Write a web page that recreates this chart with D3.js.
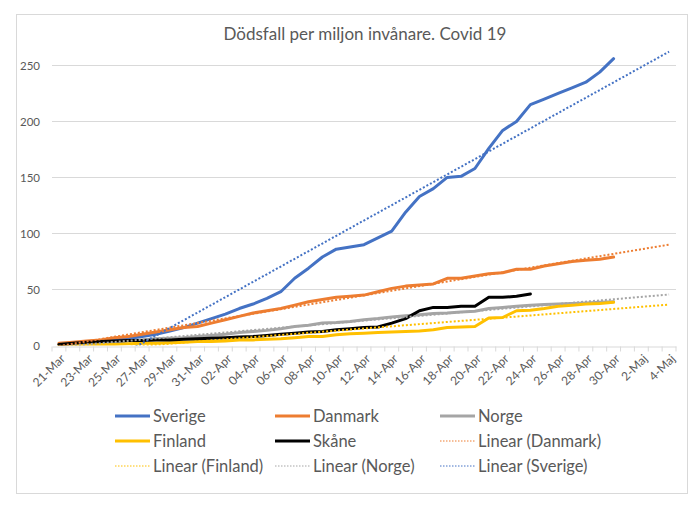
<!DOCTYPE html>
<html>
<head>
<meta charset="utf-8">
<script src="https://cdn.jsdelivr.net/npm/d3@7"></script>
<style>
  html, body { margin: 0; padding: 0; background: #ffffff; }
  svg { display: block; }
  text { font-family: "Lato", "Open Sans", sans-serif; fill: #595959; }
</style>
</head>
<body>
<svg id="chart" width="700" height="506"></svg>
<script>
const categories = [
  "21-Mar","22-Mar","23-Mar","24-Mar","25-Mar","26-Mar","27-Mar","28-Mar","29-Mar","30-Mar","31-Mar",
  "01-Apr","02-Apr","03-Apr","04-Apr","05-Apr","06-Apr","07-Apr","08-Apr","09-Apr","10-Apr",
  "11-Apr","12-Apr","13-Apr","14-Apr","15-Apr","16-Apr","17-Apr","18-Apr","19-Apr","20-Apr",
  "21-Apr","22-Apr","23-Apr","24-Apr","25-Apr","26-Apr","27-Apr","28-Apr","29-Apr","30-Apr",
  "1-Maj","2-Maj","3-Maj","4-Maj"
];
const tickLabels = ["21-Mar","23-Mar","25-Mar","27-Mar","29-Mar","31-Mar","02-Apr","04-Apr","06-Apr","08-Apr",
  "10-Apr","12-Apr","14-Apr","16-Apr","18-Apr","20-Apr","22-Apr","24-Apr","26-Apr","28-Apr","30-Apr","2-Maj","4-Maj"];
const yTicks = [0, 50, 100, 150, 200, 250];

const sverige = [1,2,3,4,5,6,8,10,13,16,20,24,28,33,37,42,48,60,69,79,86,88,90,96,102,119,133,140,150,151,158,176,192,200,215,220,225,230,235,244,256];
const danmark = [2,3,4,5,7,8,10,12,14,16,17,20,23,26,29,31,33,36,39,41,43,44,45,48,51,53,54,55,60,60,62,64,65,68,68,71,73,75,76,77,79];
const norge   = [1,1.5,2,2.5,3,4,5,6,6.5,7,8,9,10,11.5,12.5,13.5,15,17,18,20,20.5,21.5,23,24,25.5,26.5,27.5,28.5,29,30,30.5,33,34,35,36,36.5,37,37.5,38,38.5,39];
const finland = [0.5,0.5,1,1,1,1.5,2,2,2.5,3,3.5,3.5,4,5,5,5.5,6,7,8,8,9.5,10.5,11,11.5,12,12.5,13,14,16,16.5,17,24.5,25,31,31.5,33,35,36,37,37.5,38.5];
const skane   = [1,2,3,3.5,4,4.5,4.5,5,5,5.5,6,6.5,7,7.5,8,9,10,11,12,12.5,14,15,16,16.5,20,24,31,34,34,35,35,43,43,44,46];

const seriesNames = ["Sverige","Danmark","Norge","Finland","Skåne"];
const seriesColors = ["#4472C4","#ED7D31","#A5A5A5","#FFC000","#000000"];
const seriesValues = [sverige, danmark, norge, finland, skane];
const trendNames = ["Linear (Danmark)","Linear (Finland)","Linear (Norge)","Linear (Sverige)"];
const trendSources = ["Danmark","Finland","Norge","Sverige"];
const forwardPeriods = 4;

const svg = d3.select("#chart");

// chart frame
svg.append("rect").attr("x", 16.5).attr("y", 14.5).attr("width", 671).attr("height", 479)
  .attr("fill", "#fff").attr("stroke", "#d9d9d9").attr("stroke-width", 1);

// title
svg.append("text").attr("x", 365).attr("y", 40).attr("text-anchor", "middle")
  .style("font-size", "17px").text("Dödsfall per miljon invånare. Covid 19");

const plot = { left: 52, right: 676, top: 43, bottom: 345.5 };

const x = d3.scaleBand().domain(categories).range([plot.left, plot.right]).paddingInner(0).paddingOuter(0);
const xc = c => x(c) + x.bandwidth() / 2;
const xi = i => x(categories[0]) + x.bandwidth() * (i + 0.5);
const y = d3.scaleLinear().domain([0, 270]).range([plot.bottom, plot.top]);

// gridlines
svg.append("g").selectAll("line").data(yTicks.filter(v => v > 0)).join("line")
  .attr("x1", plot.left).attr("x2", plot.right)
  .attr("y1", d => Math.round(y(d)) + 0.5).attr("y2", d => Math.round(y(d)) + 0.5)
  .attr("stroke", "#d9d9d9").attr("stroke-width", 1);

// y axis labels
const yAxis = d3.axisLeft(y).tickValues(yTicks).tickSize(0).tickPadding(0);
const gy = svg.append("g").attr("transform", `translate(40,0)`).call(yAxis);
gy.select(".domain").remove();
gy.selectAll("text").style("font-size", "11.5px").attr("fill", "#595959").attr("x", 0);

// x axis
const xAxis = d3.axisBottom(x).tickValues(categories).tickSize(0).tickFormat("");
const gx = svg.append("g").attr("transform", `translate(0,${Math.round(plot.bottom) + 0.5})`).call(xAxis);
gx.select(".domain").attr("stroke", "#d9d9d9");
const bounds = d3.range(categories.length + 1).map(i => plot.left + i * x.bandwidth());
gx.selectAll(".bound").data(bounds).join("line").attr("class", "bound")
  .attr("x1", d => d).attr("x2", d => d).attr("y1", 0).attr("y2", 5)
  .attr("stroke", "#d9d9d9");
gx.selectAll(".tick").remove();
gx.selectAll(".xl").data(tickLabels).join("text").attr("class", "xl")
  .attr("transform", d => `translate(${xc(d) + 4},${10}) rotate(-45)`)
  .attr("text-anchor", "end").attr("dy", "0.35em")
  .style("font-size", "12px").attr("fill", "#595959").text(d => d);

// clip
svg.append("clipPath").attr("id", "clip").append("rect")
  .attr("x", plot.left).attr("y", 0).attr("width", plot.right - plot.left).attr("height", plot.bottom);

const line = d3.line().x((d, i) => xi(i)).y(d => y(d));
const gl = svg.append("g").attr("clip-path", "url(#clip)");
seriesValues.forEach((vals, k) => {
  gl.append("path").datum(vals).attr("d", line)
    .attr("fill", "none").attr("stroke", seriesColors[k]).attr("stroke-width", 3)
    .attr("stroke-linejoin", "round").attr("stroke-linecap", "round");
});

// linear trendlines (least squares, forecast forward 4 periods)
function fit(vals) {
  const n = vals.length;
  const xs = d3.range(n);
  const mx = d3.mean(xs), my = d3.mean(vals);
  const sxy = d3.sum(xs, i => (i - mx) * (vals[i] - my));
  const sxx = d3.sum(xs, i => (i - mx) * (i - mx));
  const b = sxy / sxx, a = my - b * mx;
  return { a, b, end: n - 1 + forwardPeriods };
}
trendSources.forEach(name => {
  const k = seriesNames.indexOf(name);
  const f = fit(seriesValues[k]);
  gl.append("line")
    .attr("x1", xi(0)).attr("y1", y(f.a))
    .attr("x2", xi(f.end)).attr("y2", y(f.a + f.b * f.end))
    .attr("stroke", seriesColors[k]).attr("stroke-width", 2)
    .attr("stroke-dasharray", "2,2");
});

// legend
const legendItems = [
  { name: "Sverige", color: seriesColors[0], dotted: false },
  { name: "Danmark", color: seriesColors[1], dotted: false },
  { name: "Norge", color: seriesColors[2], dotted: false },
  { name: "Finland", color: seriesColors[3], dotted: false },
  { name: "Skåne", color: seriesColors[4], dotted: false },
  { name: trendNames[0], color: seriesColors[1], dotted: true },
  { name: trendNames[1], color: seriesColors[3], dotted: true },
  { name: trendNames[2], color: seriesColors[2], dotted: true },
  { name: trendNames[3], color: seriesColors[0], dotted: true }
];
const colX = [115, 275, 440];
const rowY = [416, 441, 466];
const lg = svg.append("g");
legendItems.forEach((it, i) => {
  const cx = colX[i % 3], cy = rowY[Math.floor(i / 3)];
  lg.append("line").attr("x1", cx).attr("x2", cx + 35).attr("y1", cy).attr("y2", cy)
    .attr("stroke", it.color).attr("stroke-width", it.dotted ? 1 : 3)
    .attr("stroke-dasharray", it.dotted ? "1.5,1.5" : null);
  lg.append("text").attr("x", cx + 38).attr("y", cy).attr("dy", "0.35em")
    .style("font-size", "16.5px").text(it.name);
});
</script>
</body>
</html>
